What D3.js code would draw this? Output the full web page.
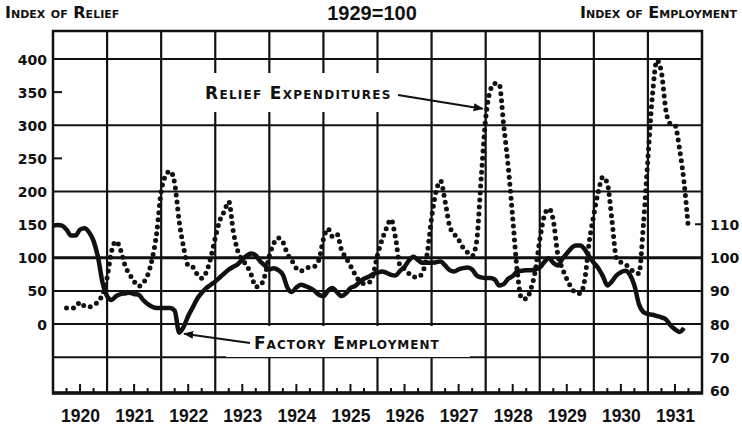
<!DOCTYPE html>
<html>
<head>
<meta charset="utf-8">
<script src="https://cdn.jsdelivr.net/npm/d3@7/dist/d3.min.js"></script>
<style>
  body { margin: 0; background: #fff; }
  text { font-family: "DejaVu Sans", sans-serif; font-weight: bold; fill: #111; }
  .sc { font-variant: small-caps; }
</style>
</head>
<body>
<div id="chart"></div>
<script>
// years shown on the bottom axis
var years = [1920, 1921, 1922, 1923, 1924, 1925, 1926, 1927, 1928, 1929, 1930, 1931];
var reliefTicks = [0, 50, 100, 150, 200, 250, 300, 350, 400];
var employmentTicks = [60, 70, 80, 90, 100, 110];
var reliefGrid = [-50, 0, 50, 100, 200, 300, 400];
var reliefMinorTicks = [150, 250, 350];

// factory employment index, monthly from Jan 1920 (right scale)
var employment = [
  109.6, 109.8, 109.6, 108.4, 106.6, 106.6, 108.4, 108.8, 107.6, 105, 100, 92.4,
  88.4, 87.2, 88.4, 89, 89.2, 89.4, 89, 88.8, 87.2, 86, 85.2, 84.8,
  84.8, 84.8, 84.8, 84, 77.4, 79.2, 82.4, 85, 87.6, 89.4, 90.8, 91.8,
  92.8, 94, 95.2, 96.4, 97.2, 98, 99.4, 100.6, 101.2, 100.6, 98.8, 97.6,
  96.4, 96.8, 96.2, 94.8, 91, 89.6, 91, 91.8, 91.4, 90.8, 90, 88.8,
  88.4, 90, 90.8, 89.6, 88.4, 89.2, 90.8, 91.4, 92.6, 93.6, 94.2, 95,
  95.4, 95.8, 95.4, 94.8, 94.6, 96, 97.2, 99.2, 100.2, 99.2, 98.4, 98.4,
  98.4, 98.6, 98.8, 97.6, 96.2, 95.8, 96.4, 96.8, 97, 96.4, 94.6, 94,
  93.8, 93.8, 93.4, 91.6, 92, 93.6, 94.4, 95.8, 96, 96.2, 96.2, 96.4,
  97, 98.6, 99.8, 98.4, 97.6, 99.6, 101.2, 102.8, 103.6, 103.6, 102.4, 100.2,
  98.4, 96.8, 94.4, 91.6, 92.8, 94.6, 95.6, 96, 94.8, 91.6, 86, 83.6,
  83, 82.8, 82.4, 82, 81.4, 79.6, 78.4, 77.6, 78.8
];

// relief expenditures index, monthly from Apr 1920 (left scale)
var reliefStart = 3;
var relief = [
  24, 24, 25, 33, 27, 26, 28, 34, 45,
  70, 110, 125, 112, 88, 75, 64, 57, 62, 74, 98, 137,
  200, 224, 231, 212, 155, 115, 88, 86, 75, 69, 78, 100,
  130, 156, 170, 185, 140, 110, 97, 88, 74, 56, 58, 73,
  103, 122, 130, 124, 106, 96, 84, 80, 84, 86, 87, 97,
  128, 144, 132, 136, 112, 100, 88, 75, 65, 61, 62, 74,
  104, 127, 145, 158, 130, 88, 83, 76, 71, 71, 78, 105,
  160, 200, 216, 185, 148, 136, 127, 115, 108, 103, 125, 220,
  310, 352, 363, 362, 300, 238, 160, 80, 38, 38, 52, 80,
  127, 163, 174, 157, 105, 84, 68, 55, 47, 46, 68, 125,
  165, 200, 222, 212, 158, 100, 93, 90, 84, 78, 76, 150,
  250, 345, 398, 380, 322, 302, 300, 265, 215, 142
];

var width = 742, height = 432;
var plotLeft = 53, plotRight = 702, plotTop = 31, plotBottom = 393;

var svg = d3.select("#chart").append("svg")
  .attr("width", width)
  .attr("height", height);

var x = d3.scaleLinear().domain([1920, 1932]).range([plotLeft, plotRight]);
var yRel = d3.scaleLinear().domain([0, 400]).range([324, 59]);
var yEmp = d3.scaleLinear().domain([80, 100]).range([324, 257.5]);

function monthX(i) { return x(1920 + i / 12); }

// horizontal grid
svg.selectAll(".hgrid")
  .data(reliefGrid)
  .enter().append("line")
  .attr("x1", plotLeft).attr("x2", plotRight)
  .attr("y1", function (d) { return yRel(d); })
  .attr("y2", function (d) { return yRel(d); })
  .style("stroke", "#111")
  .style("stroke-width", function (d) { return d == 100 ? 3 : 2; });

// vertical year lines
svg.selectAll(".vgrid")
  .data(years.slice(1))
  .enter().append("line")
  .attr("x1", function (d) { return x(d); })
  .attr("x2", function (d) { return x(d); })
  .attr("y1", plotTop).attr("y2", plotBottom)
  .style("stroke", "#111")
  .style("stroke-width", 2.2);

// short inside ticks on the left and right borders
svg.selectAll(".ltick")
  .data(reliefMinorTicks)
  .enter().append("line")
  .attr("x1", plotLeft).attr("x2", plotLeft + 9)
  .attr("y1", function (d) { return yRel(d); })
  .attr("y2", function (d) { return yRel(d); })
  .style("stroke", "#111").style("stroke-width", 2);

svg.append("line")
  .attr("x1", plotRight - 7).attr("x2", plotRight)
  .attr("y1", yEmp(110)).attr("y2", yEmp(110))
  .style("stroke", "#111").style("stroke-width", 2);

// quarter ticks along the bottom
var quarters = [];
years.forEach(function (yr) {
  [1, 2, 3].forEach(function (q) { quarters.push({ t: yr + q / 4, q: q }); });
});
svg.selectAll(".qtick")
  .data(quarters)
  .enter().append("line")
  .attr("x1", function (d) { return x(d.t); })
  .attr("x2", function (d) { return x(d.t); })
  .attr("y1", plotBottom)
  .attr("y2", function (d) { return plotBottom - (d.q == 2 ? 9 : 5); })
  .style("stroke", "#111").style("stroke-width", 2);

// white patches behind the labels
svg.append("rect")
  .attr("x", 196).attr("y", 73).attr("width", 228).attr("height", 39)
  .style("fill", "#fff");
svg.append("rect")
  .attr("x", 226).attr("y", 326).attr("width", 244).attr("height", 31)
  .style("fill", "#fff");

// frame
svg.append("rect")
  .attr("x", plotLeft).attr("y", plotTop)
  .attr("width", plotRight - plotLeft).attr("height", plotBottom - plotTop)
  .style("fill", "none")
  .style("stroke", "#111")
  .style("stroke-width", 2.5);
svg.append("line")
  .attr("x1", plotLeft - 1).attr("x2", plotRight + 1)
  .attr("y1", plotBottom).attr("y2", plotBottom)
  .style("stroke", "#111").style("stroke-width", 3.5);

// relief expenditures (dotted)
var reliefLine = d3.line()
  .x(function (d, i) { return monthX(i + reliefStart); })
  .y(function (d) { return yRel(d); })
  .curve(d3.curveMonotoneX);

svg.append("path")
  .datum(relief)
  .attr("d", reliefLine)
  .style("fill", "none")
  .style("stroke", "#111")
  .style("stroke-width", 5)
  .style("stroke-linecap", "round")
  .style("stroke-dasharray", "0 7");

// factory employment (solid)
var empLine = d3.line()
  .x(function (d, i) { return monthX(i); })
  .y(function (d) { return yEmp(d); })
  .curve(d3.curveMonotoneX);

svg.append("path")
  .datum(employment)
  .attr("d", empLine)
  .style("fill", "none")
  .style("stroke", "#111")
  .style("stroke-width", 4.5)
  .style("stroke-linejoin", "round");

// axes
var axisL = svg.append("g")
  .attr("transform", "translate(" + (plotLeft - 6) + ",0)")
  .call(d3.axisLeft(yRel).tickValues(reliefTicks).tickSize(0).tickPadding(0));
var axisR = svg.append("g")
  .attr("transform", "translate(" + (plotRight + 8) + ",0)")
  .call(d3.axisRight(yEmp).tickValues(employmentTicks).tickSize(0).tickPadding(0));
var axisB = svg.append("g")
  .attr("transform", "translate(0," + (plotBottom + 17) + ")")
  .call(d3.axisBottom(x)
    .tickValues(years.map(function (d) { return d + 0.5; }))
    .tickFormat(function (d) { return Math.floor(d); })
    .tickSize(0).tickPadding(0));

[axisL, axisR, axisB].forEach(function (a) { a.select(".domain").remove(); });
axisL.selectAll("text").attr("font-size", 14).attr("font-family", null).attr("dy", "0.36em");
axisR.selectAll("text").attr("font-size", 14).attr("font-family", null).attr("dy", "0.36em");
axisB.selectAll("text")
  .attr("font-size", 17.5)
  .attr("font-family", null)
  .style("font-family", "'Liberation Sans', Arial, sans-serif");

// headings
svg.append("text")
  .attr("class", "sc")
  .attr("x", 5).attr("y", 18)
  .attr("font-size", 16)
  .text("Index of Relief");
svg.append("text")
  .attr("class", "sc")
  .attr("x", 737).attr("y", 18)
  .attr("text-anchor", "end")
  .attr("font-size", 16)
  .text("Index of Employment");
svg.append("text")
  .attr("x", 372).attr("y", 20)
  .attr("text-anchor", "middle")
  .attr("font-size", 20)
  .style("font-family", "'Liberation Sans', Arial, sans-serif")
  .text("1929=100");

// annotations
var defs = svg.append("defs");
defs.append("marker")
  .attr("id", "arrow")
  .attr("viewBox", "0 0 10 10")
  .attr("refX", 9).attr("refY", 5)
  .attr("markerWidth", 5).attr("markerHeight", 5)
  .attr("orient", "auto")
  .append("path")
  .attr("d", "M0,1 L10,5 L0,9 Z")
  .style("fill", "#111");

svg.append("text")
  .attr("class", "sc")
  .attr("x", 205).attr("y", 99)
  .attr("font-size", 17)
  .style("letter-spacing", "1.3px")
  .text("Relief Expenditures");

// arrow points at the 1927-28 rise of relief
svg.append("line")
  .attr("x1", 398).attr("y1", 95)
  .attr("x2", monthX(96) - 3).attr("y2", yRel(325))
  .attr("marker-end", "url(#arrow)")
  .style("stroke", "#111").style("stroke-width", 2);

svg.append("text")
  .attr("class", "sc")
  .attr("x", 254).attr("y", 349)
  .attr("font-size", 17)
  .style("letter-spacing", "1px")
  .text("Factory Employment");

// arrow points at the 1922 low of employment
svg.append("line")
  .attr("x1", 250).attr("y1", 343)
  .attr("x2", monthX(28) + 5).attr("y2", yEmp(employment[28]) + 1)
  .attr("marker-end", "url(#arrow)")
  .style("stroke", "#111").style("stroke-width", 2);
</script>
</body>
</html>
